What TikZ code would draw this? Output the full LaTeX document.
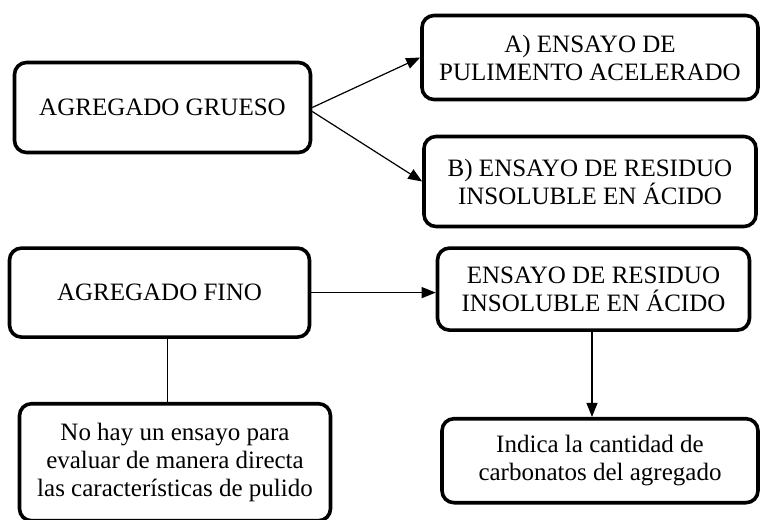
\documentclass[tikz,border=0pt]{standalone}
\usepackage{fontspec}
\setmainfont{Liberation Serif}
\usetikzlibrary{positioning,arrows.meta}

\begin{document}
\begin{tikzpicture}[
		x=0.5pt,y=-0.5pt,
		mybox/.style={draw,line width=1.8pt,rounded corners=6pt,align=center,
			font=\fontsize{12.5}{14}\selectfont,inner sep=2pt},
		myline/.style={line width=0.6pt},
		myarrow/.style={myline,-{Triangle[length=7pt,width=5.5pt]}}
		]
		\useasboundingbox (0,0) rectangle (762,520);
		% agregado grueso
		\node[mybox,minimum width=148pt,minimum height=45pt] (grueso) at (162.5,107.5) {AGREGADO GRUESO};
		\node[mybox,minimum width=168pt,minimum height=42pt] (pulimento) at (590,57.5)
		{A) ENSAYO DE\\PULIMENTO ACELERADO};
		\node[mybox,minimum width=166pt,minimum height=45pt] (residuoB) at (590,181.5)
		{B) ENSAYO DE RESIDUO\\INSOLUBLE EN ÁCIDO};
		% agregado fino
		\node[mybox,minimum width=150pt,minimum height=44.5pt,below=46pt of grueso,xshift=-1.5pt] (fino) {AGREGADO FINO};
		\node[mybox,minimum width=156pt,minimum height=41pt,below=9pt of residuoB,xshift=1.75pt] (residuo)
		{ENSAYO DE RESIDUO\\INSOLUBLE EN ÁCIDO};
		\node[mybox,minimum width=155.5pt,minimum height=58.5pt,below=31.5pt of fino,xshift=7.75pt] (nohay)
		{No hay un ensayo para\\evaluar de manera directa\\las características de pulido};
		\node[mybox,minimum width=158pt,minimum height=42pt,below=42.5pt of residuo,xshift=3.25pt] (indica)
		{Indica la cantidad de\\carbonatos del agregado};
		\draw[myarrow] (grueso.east) -- (pulimento.west);
		\draw[myarrow] ([yshift=-2pt]grueso.east) -- (residuoB.west);
		\draw[myarrow] (fino.east) -- (fino.east -| residuo.west);
		\draw[myline] ([xshift=4pt]fino.south) -- ([xshift=4pt]fino.south |- nohay.north);
		\draw[myarrow] ([xshift=-0.75pt]residuo.south) -- ([xshift=-0.75pt]residuo.south |- indica.north);
	\end{tikzpicture}
\end{document}
